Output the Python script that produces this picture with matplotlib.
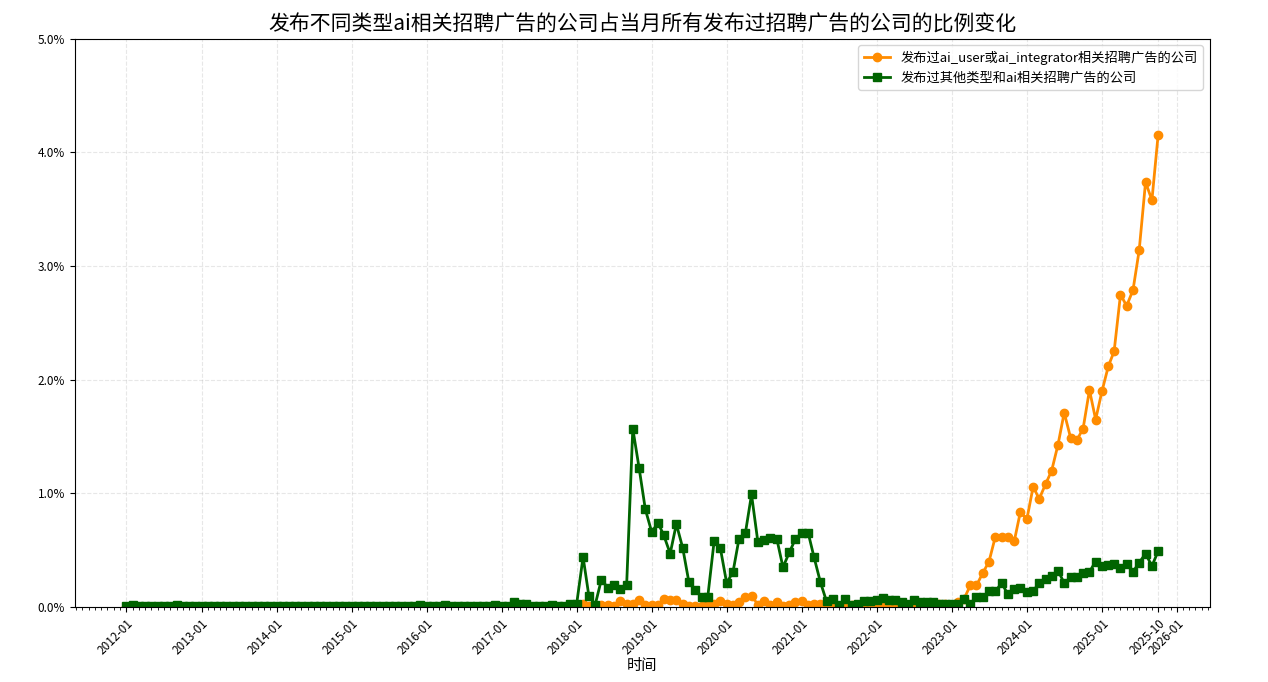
import matplotlib
matplotlib.use("Agg")
import matplotlib.pyplot as plt
import matplotlib.dates as mdates
from matplotlib.ticker import PercentFormatter
import pandas as pd

plt.rcParams['font.family'] = ['Noto Sans CJK SC', 'DejaVu Sans']
plt.rcParams['axes.unicode_minus'] = False

months = pd.date_range("2012-01-01", "2025-10-01", freq="MS")

# values in percent, 2012-01 .. 2025-10
ai_user_pct = [
    # 2012
    0.00, 0.00, 0.00, 0.00, 0.00, 0.00, 0.00, 0.00, 0.00, 0.00, 0.00, 0.00,
    # 2013
    0.00, 0.00, 0.00, 0.00, 0.00, 0.00, 0.00, 0.00, 0.00, 0.00, 0.00, 0.00,
    # 2014
    0.00, 0.00, 0.00, 0.00, 0.00, 0.00, 0.00, 0.00, 0.00, 0.00, 0.00, 0.00,
    # 2015
    0.00, 0.00, 0.00, 0.00, 0.00, 0.00, 0.00, 0.00, 0.00, 0.00, 0.00, 0.00,
    # 2016
    0.00, 0.00, 0.00, 0.00, 0.00, 0.00, 0.00, 0.00, 0.00, 0.00, 0.00, 0.00,
    # 2017
    0.00, 0.00, 0.01, 0.00, 0.00, 0.00, 0.00, 0.00, 0.00, 0.00, 0.00, 0.00,
    # 2018
    0.00, 0.03, 0.01, 0.00, 0.02, 0.02, 0.01, 0.05, 0.03, 0.03, 0.06, 0.02,
    # 2019
    0.02, 0.02, 0.07, 0.06, 0.06, 0.03, 0.01, 0.01, 0.01, 0.02, 0.03, 0.05,
    # 2020
    0.03, 0.02, 0.04, 0.09, 0.10, 0.02, 0.05, 0.02, 0.04, 0.01, 0.02, 0.04,
    # 2021
    0.05, 0.02, 0.03, 0.03, 0.02, 0.02, 0.01, 0.02, 0.02, 0.01, 0.01, 0.01,
    # 2022
    0.01, 0.02, 0.02, 0.02, 0.01, 0.01, 0.01, 0.02, 0.01, 0.02, 0.03, 0.03,
    # 2023
    0.02, 0.04, 0.07, 0.19, 0.19, 0.30, 0.40, 0.62, 0.62, 0.62, 0.58, 0.84,
    # 2024
    0.77, 1.06, 0.95, 1.08, 1.20, 1.43, 1.71, 1.49, 1.47, 1.57, 1.91, 1.65,
    # 2025
    1.90, 2.12, 2.25, 2.75, 2.65, 2.79, 3.14, 3.74, 3.58, 4.15,
]

other_ai_pct = [
    # 2012
    0.01, 0.02, 0.01, 0.01, 0.01, 0.01, 0.01, 0.01, 0.02, 0.01, 0.01, 0.01,
    # 2013
    0.01, 0.01, 0.01, 0.01, 0.01, 0.01, 0.01, 0.01, 0.01, 0.01, 0.01, 0.01,
    # 2014
    0.01, 0.01, 0.01, 0.01, 0.01, 0.01, 0.01, 0.01, 0.01, 0.01, 0.01, 0.01,
    # 2015
    0.01, 0.01, 0.01, 0.01, 0.01, 0.01, 0.01, 0.01, 0.01, 0.01, 0.01, 0.02,
    # 2016
    0.01, 0.01, 0.01, 0.02, 0.01, 0.01, 0.01, 0.01, 0.01, 0.01, 0.01, 0.02,
    # 2017
    0.01, 0.01, 0.04, 0.03, 0.03, 0.01, 0.01, 0.01, 0.02, 0.01, 0.01, 0.03,
    # 2018
    0.03, 0.44, 0.10, 0.02, 0.24, 0.17, 0.19, 0.16, 0.19, 1.57, 1.22, 0.86,
    # 2019
    0.66, 0.74, 0.63, 0.47, 0.73, 0.52, 0.22, 0.15, 0.09, 0.09, 0.58, 0.52,
    # 2020
    0.21, 0.31, 0.60, 0.65, 0.99, 0.57, 0.59, 0.61, 0.60, 0.35, 0.48, 0.60,
    # 2021
    0.65, 0.65, 0.44, 0.22, 0.05, 0.07, 0.02, 0.07, 0.02, 0.03, 0.05, 0.05,
    # 2022
    0.06, 0.08, 0.06, 0.06, 0.04, 0.03, 0.06, 0.04, 0.04, 0.04, 0.03, 0.03,
    # 2023
    0.03, 0.03, 0.07, 0.03, 0.09, 0.09, 0.14, 0.14, 0.21, 0.11, 0.16, 0.17,
    # 2024
    0.13, 0.14, 0.21, 0.25, 0.27, 0.32, 0.21, 0.26, 0.26, 0.30, 0.31, 0.40,
    # 2025
    0.36, 0.37, 0.38, 0.34, 0.38, 0.31, 0.39, 0.47, 0.36, 0.49,
]

label_user = "发布过ai_user或ai_integrator相关招聘广告的公司"
label_other = "发布过其他类型和ai相关招聘广告的公司"
title = "发布不同类型ai相关招聘广告的公司占当月所有发布过招聘广告的公司的比例变化"
xlabel = "时间"

fig = plt.figure(figsize=(12.68, 6.82), dpi=100)
ax = fig.add_axes([0.059, 0.110, 0.895, 0.833])

ax.plot(months, ai_user_pct, color="darkorange", marker="o", markersize=6,
        linewidth=2, label=label_user)
ax.plot(months, other_ai_pct, color="darkgreen", marker="s", markersize=6,
        linewidth=2, label=label_other)

ax.set_ylim(0, 5)
ax.yaxis.set_major_formatter(PercentFormatter(100, decimals=1))

tick_dates = list(pd.date_range("2012-01-01", "2026-01-01", freq="YS"))
tick_dates.insert(-1, months[-1])
ax.set_xticks(tick_dates)
ax.set_xticklabels([d.strftime("%Y-%m") for d in tick_dates], rotation=45,
                   ha="right", rotation_mode="anchor", fontsize=8.5)
ax.xaxis.set_minor_locator(mdates.MonthLocator())
ax.tick_params(axis="y", labelsize=8.5)

ax.grid(True, linestyle="--", alpha=0.3)
ax.set_title(title, fontsize=15, pad=6)
ax.set_xlabel(xlabel, fontsize=11, labelpad=0)
ax.legend(loc="upper right", fontsize=9.5)

fig.savefig("out.png", dpi=100)
